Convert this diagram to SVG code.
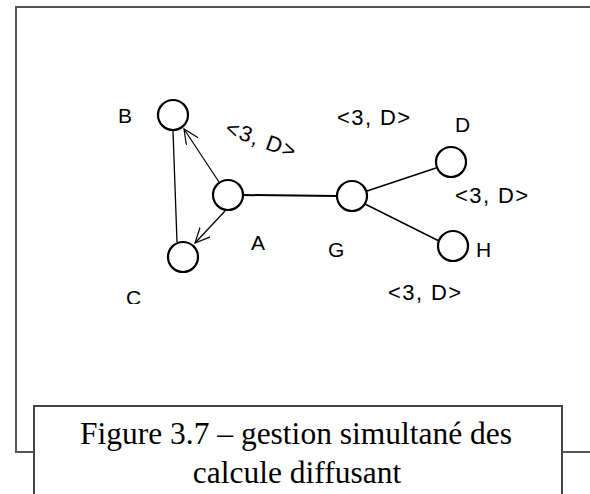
<svg xmlns="http://www.w3.org/2000/svg" width="590" height="494" viewBox="0 0 590 494">
<style>
.node{fill:#fff;stroke:#000;stroke-width:2.2}
.lbl{font-family:"Liberation Sans",Arial,sans-serif;font-size:21px;fill:#000}
.msg{font-family:"Liberation Sans",Arial,sans-serif;font-size:22px;letter-spacing:1.4px;fill:#000}
.edge{stroke:#000;fill:none}
.cap{font-family:"Liberation Serif","Times New Roman",serif;font-size:31.5px;fill:#000}
.frame{stroke:#555;stroke-width:2;fill:none}
</style>
<defs>
<marker id="open" markerUnits="userSpaceOnUse" markerWidth="18" markerHeight="16" refX="15" refY="7" orient="auto" viewBox="0 0 18 16">
<path d="M0,0 L15,7 L0,14" fill="none" stroke="#000" stroke-width="1.2"/>
</marker>
<clipPath id="cclip"><rect x="0" y="0" width="590" height="304"/></clipPath>
</defs>
<g id="frame">
<path class="frame" d="M16,453 L16,7 L590,7"/>
<path class="frame" d="M16,452 L590,452"/>
</g>
<g id="connectors">
<line class="edge" x1="243" y1="195" x2="337" y2="196" stroke-width="2"/>
<line class="edge" x1="173" y1="131" x2="177" y2="242" stroke-width="1.3"/>
<line class="edge" x1="219" y1="182" x2="184" y2="129" stroke-width="1.2" marker-end="url(#open)"/>
<line class="edge" x1="225" y1="211" x2="195" y2="243" stroke-width="1.2" marker-end="url(#open)"/>
<line class="edge" x1="367" y1="191" x2="436" y2="168" stroke-width="1.4"/>
<line class="edge" x1="365" y1="204" x2="439" y2="241" stroke-width="1.4"/>
</g>
<g id="node-B"><circle class="node" cx="173" cy="115" r="15"/><text class="lbl" x="118" y="123">B</text></g>
<g id="node-A"><circle class="node" cx="228" cy="195" r="15"/><text class="lbl" x="251" y="250">A</text></g>
<g id="node-C"><circle class="node" cx="183" cy="257" r="15"/><text class="lbl" x="126" y="305" clip-path="url(#cclip)">C</text></g>
<g id="node-G"><circle class="node" cx="352" cy="196" r="15"/><text class="lbl" x="328" y="257">G</text></g>
<g id="node-D"><circle class="node" cx="451" cy="162" r="15"/><text class="lbl" x="455" y="132">D</text></g>
<g id="node-H"><circle class="node" cx="453" cy="246" r="15"/><text class="lbl" x="476" y="257">H</text></g>
<g id="labels">
<text class="msg" transform="translate(224,134) rotate(20)">&lt;3, D&gt;</text>
<text class="msg" x="337" y="125">&lt;3, D&gt;</text>
<text class="msg" x="455" y="203">&lt;3, D&gt;</text>
<text class="msg" x="388" y="300">&lt;3, D&gt;</text>
</g>
<g id="caption">
<rect x="34" y="406" width="528" height="100" fill="#fff" stroke="#444" stroke-width="2"/>
<text class="cap" x="296" y="444" text-anchor="middle">Figure 3.7 – gestion simultané des</text>
<text class="cap" x="297" y="483" text-anchor="middle">calcule diffusant</text>
</g>
</svg>
